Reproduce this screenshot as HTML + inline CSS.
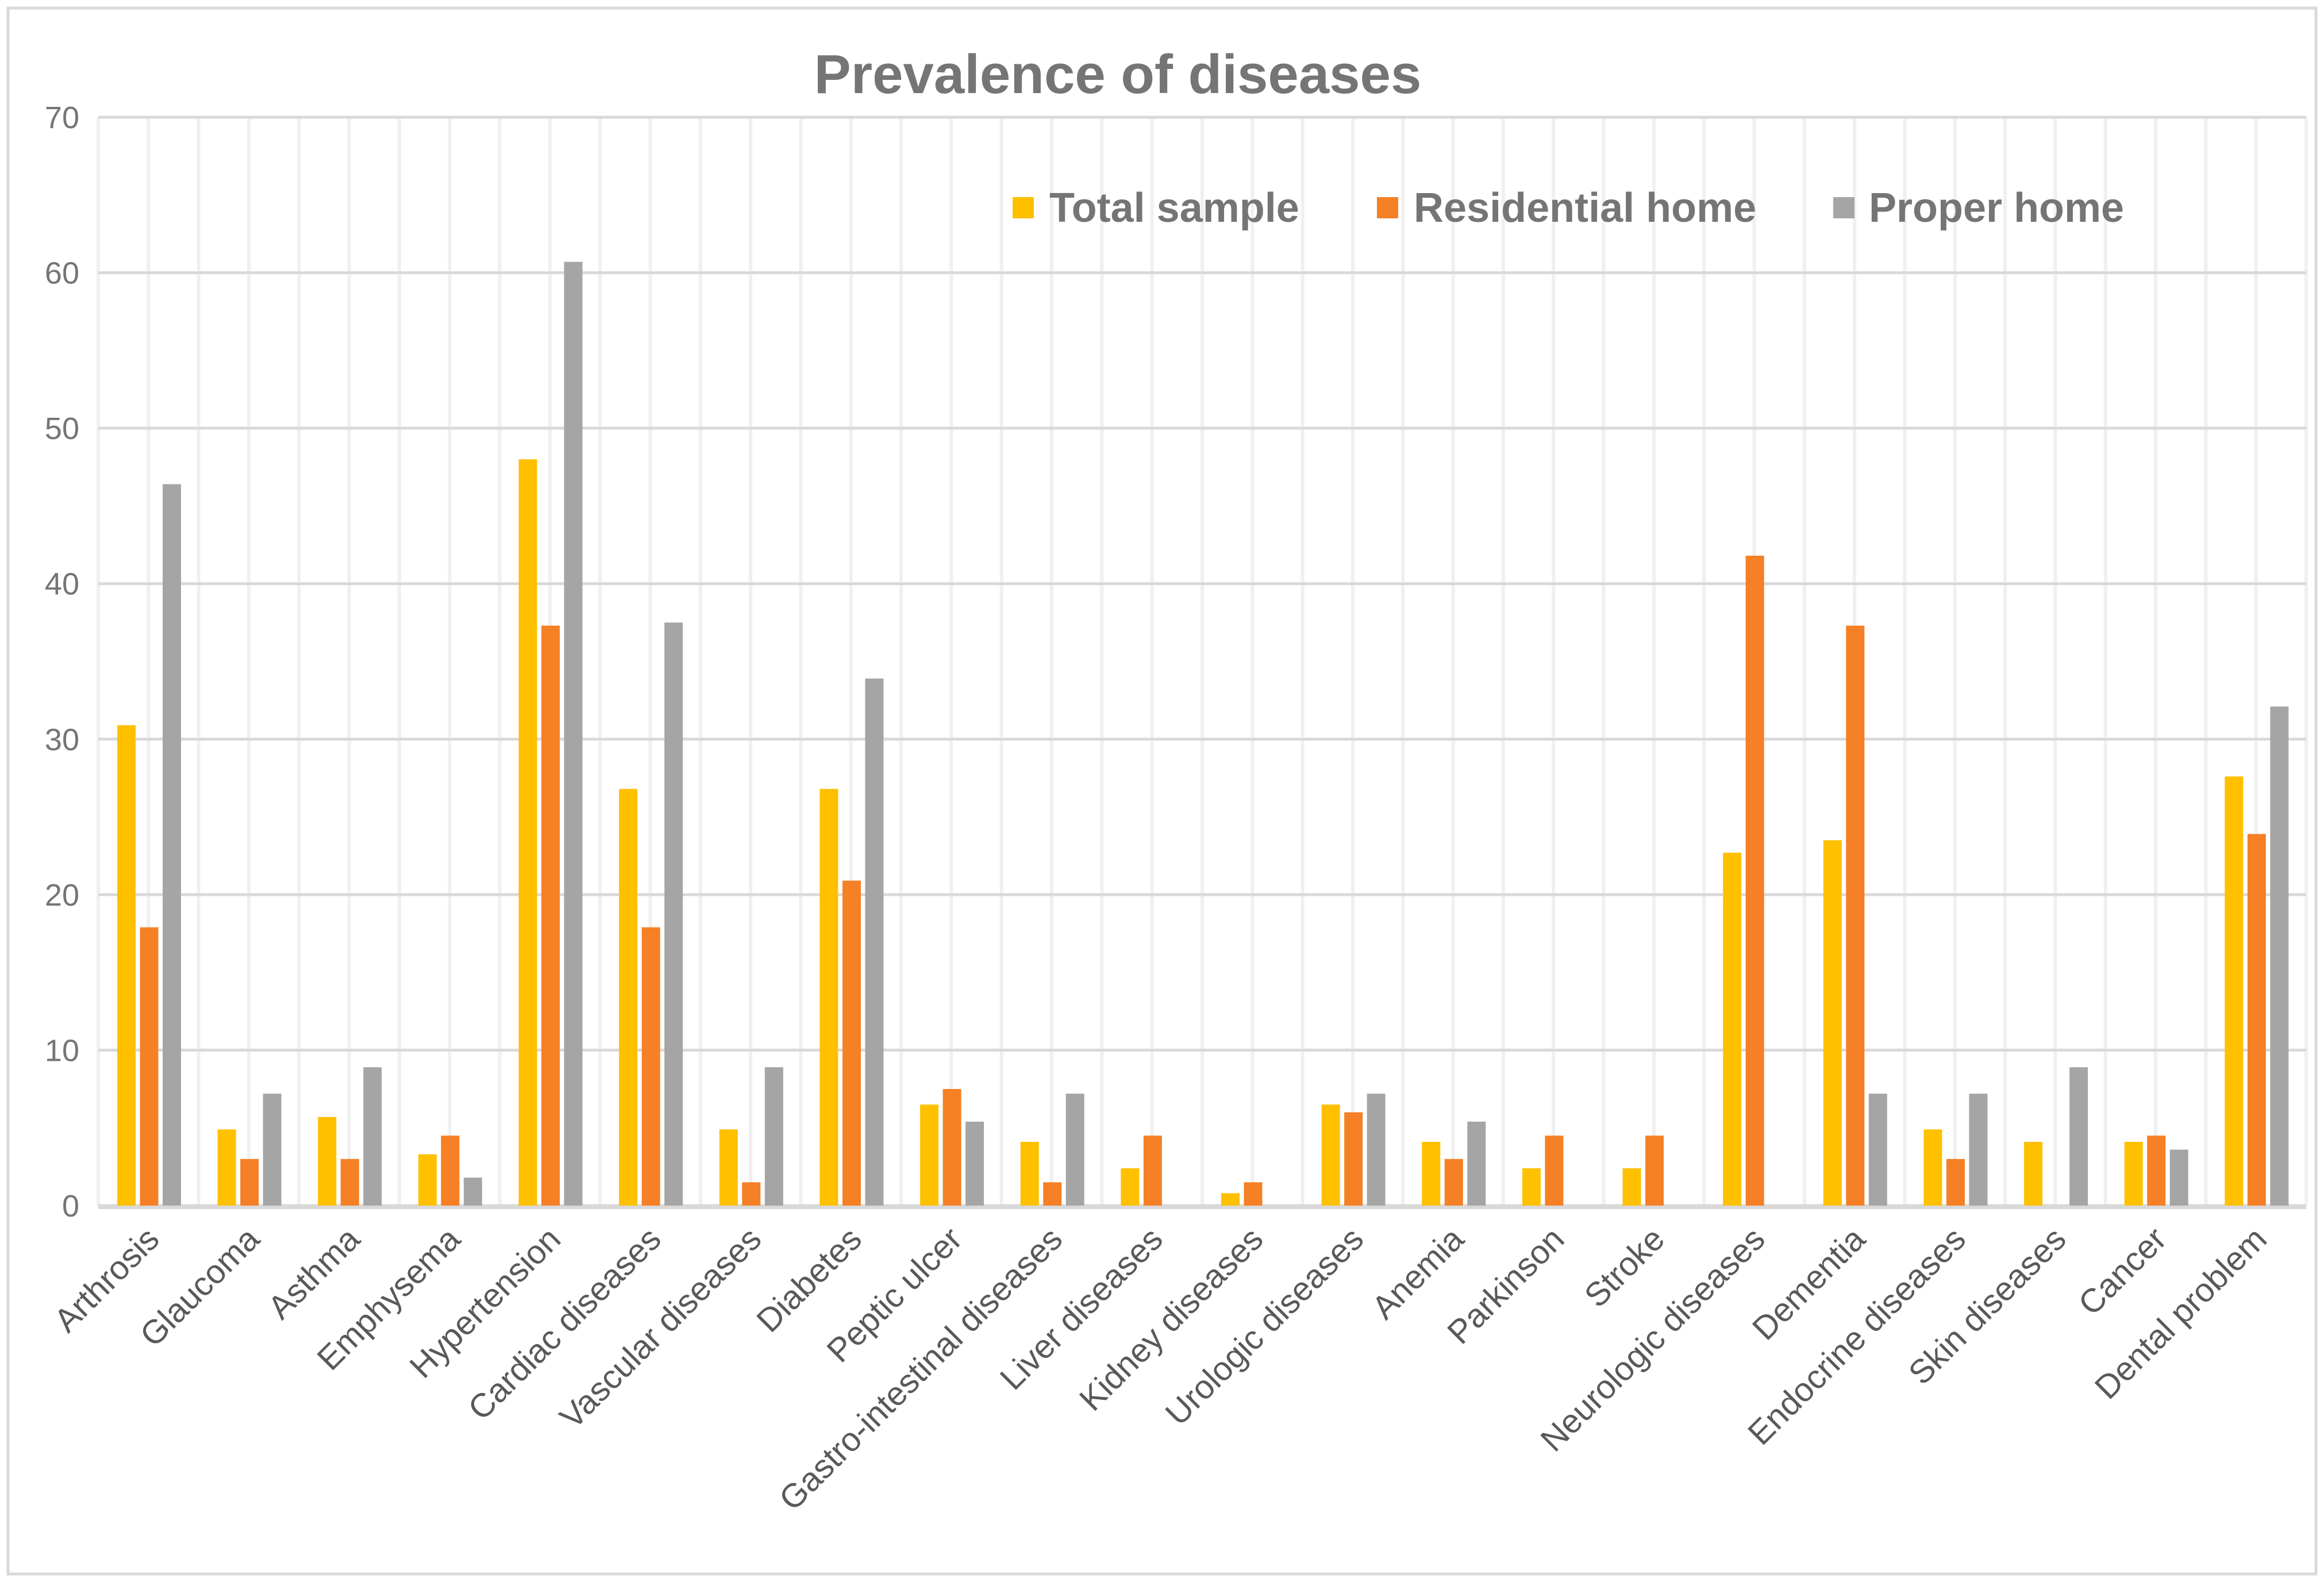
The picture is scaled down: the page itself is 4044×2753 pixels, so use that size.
<!DOCTYPE html>
<html><head><meta charset="utf-8"><style>
html,body{margin:0;padding:0;background:#fff}
svg{display:block}
text{font-family:"Liberation Sans",sans-serif}
</style></head><body>
<svg id="chart" width="4044" height="2753" viewBox="0 0 4044 2753" xmlns="http://www.w3.org/2000/svg">
<rect x="14" y="14" width="4016" height="2725" fill="#fff" stroke="#d9d9d9" stroke-width="5"/>
<text x="1945" y="162" font-size="96" font-weight="bold" fill="#757575" text-anchor="middle">Prevalence of diseases</text>
<g id="grid"></g><g id="bars"></g><g id="labels"></g>
<g font-size="72" font-weight="bold" fill="#757575">
<rect x="1762" y="343" width="37" height="37" fill="#FFC000"/>
<text x="1826" y="386">Total sample</text>
<rect x="2396" y="343" width="37" height="37" fill="#F58025"/>
<text x="2460" y="386">Residential home</text>
<rect x="3190" y="343" width="37" height="37" fill="#A5A5A5"/>
<text x="3252" y="386">Proper home</text>
</g>
</svg>
<script>
const categories=["Arthrosis","Glaucoma","Asthma","Emphysema","Hypertension","Cardiac diseases","Vascular diseases","Diabetes","Peptic ulcer","Gastro-intestinal diseases","Liver diseases","Kidney diseases","Urologic diseases","Anemia","Parkinson","Stroke","Neurologic diseases","Dementia","Endocrine diseases","Skin diseases","Cancer","Dental problem"];
const totalSample=[30.9,4.9,5.7,3.3,48,26.8,4.9,26.8,6.5,4.1,2.4,0.8,6.5,4.1,2.4,2.4,22.7,23.5,4.9,4.1,4.1,27.6];
const residentialHome=[17.9,3,3,4.5,37.3,17.9,1.5,20.9,7.5,1.5,4.5,1.5,6,3,4.5,4.5,41.8,37.3,3,0,4.5,23.9];
const properHome=[46.4,7.2,8.9,1.8,60.7,37.5,8.9,33.9,5.4,7.2,0,0,7.2,5.4,0,0,0,7.2,7.2,8.9,3.6,32.1];
const yTicks=[0,10,20,30,40,50,60,70];
const NS="http://www.w3.org/2000/svg";
const L=171,R=4013,Y0=2098,Y70=204,YMAX=70;
const y=v=>Y0-(v/YMAX)*(Y0-Y70);
const cw=(R-L)/categories.length;
const x=i=>L+i*cw;
function mk(tag,attrs,parent){const e=document.createElementNS(NS,tag);for(const k in attrs)e.setAttribute(k,attrs[k]);parent.appendChild(e);return e;}
const grid=document.getElementById('grid'),bars=document.getElementById('bars'),labels=document.getElementById('labels');
for(let i=0;i<=categories.length*2;i++){
  const l=mk('line',{x1:x(i/2),x2:x(i/2),y1:Y70,y2:Y0,stroke:'#f0f0f0','stroke-width':6},grid);
  
  
}
yTicks.forEach(t=>{
  const l=mk('line',{x1:L,x2:R,y1:y(t),y2:y(t),stroke:'#d9d9d9','stroke-width':5},grid);
  
  
  const tx=mk('text',{x:138,y:y(t)+19,'font-size':54,fill:'#757575','text-anchor':'end'},labels);
  tx.textContent=t;
  
  
});
const ax=mk('line',{x1:L,x2:R,y1:Y0+3,y2:Y0+3,stroke:'#d9d9d9','stroke-width':6},grid);


const series=[[totalSample,'#FFC000','total'],[residentialHome,'#F58025','residential'],[properHome,'#A5A5A5','proper']];
const bw=32,gap=7.5,off=33;
categories.forEach((c,i)=>{
  series.forEach((s,j)=>{
    const v=s[0][i];
    const r=mk('rect',{x:x(i)+off+j*(bw+gap),y:y(v),width:bw,height:Y0-y(v),fill:s[1]},bars);
    
    
  });
  const cx=x(i)+cw/2+22;
  const t=mk('text',{x:cx,y:2160,'font-size':58,fill:'#595959','text-anchor':'end',transform:`rotate(-45 ${cx} 2160)`},labels);
  t.textContent=c;
  
  
});
</script>
</body></html>
